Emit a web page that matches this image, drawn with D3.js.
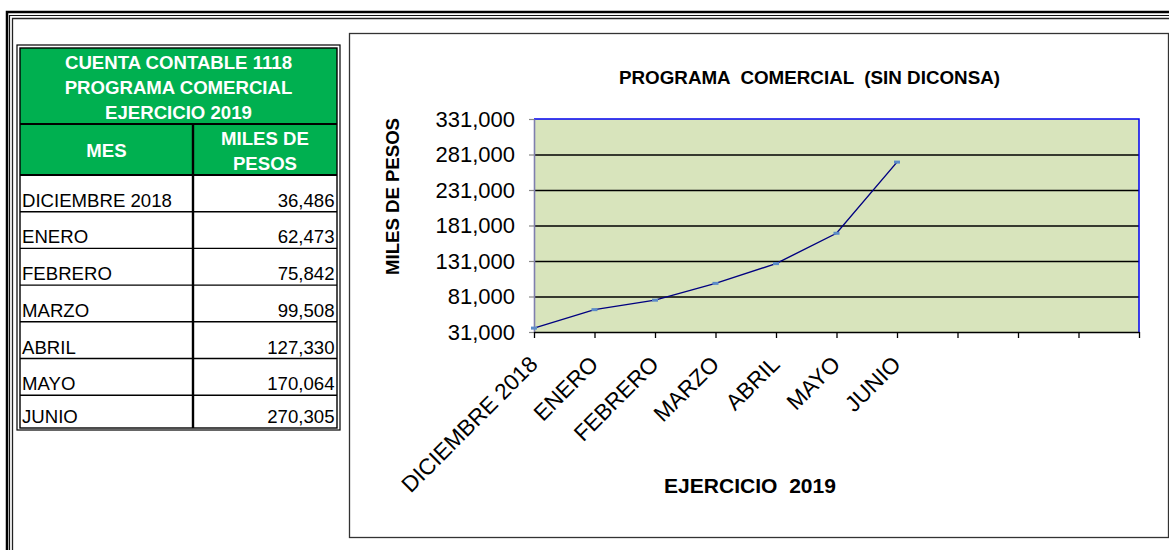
<!DOCTYPE html>
<html><head><meta charset="utf-8">
<script src="https://cdn.jsdelivr.net/npm/d3@7/dist/d3.min.js"></script>
<style>
body{margin:0;background:#fff}
text{font-family:"Liberation Sans",Arial,Helvetica,sans-serif}
</style>
</head><body>
<svg id="c" width="1169" height="550"></svg>
<script>
// ---- data ----
const months = ["DICIEMBRE 2018","ENERO","FEBRERO","MARZO","ABRIL","MAYO","JUNIO"];
const values = [36486, 62473, 75842, 99508, 127330, 170064, 270305];
const yTicks = [31000, 81000, 131000, 181000, 231000, 281000, 331000];
const blankSlots = 4; // empty category positions after JUNIO
const tableTitle = ["CUENTA CONTABLE 1118","PROGRAMA COMERCIAL","EJERCICIO 2019"];
const colMes = ["MES"];
const colMiles = ["MILES DE","PESOS"];
const chartTitle = "PROGRAMA  COMERCIAL  (SIN DICONSA)";
const yTitle = "MILES DE PESOS";
const xTitle = "EJERCICIO  2019";

const fmt = d3.format(",");
const svg = d3.select("#c");
svg.append("rect").attr("width",1169).attr("height",550).attr("fill","#fff");

// ---- outer frame (Excel style multi-line border) ----
const frame = svg.append("g").attr("fill","none");
[[7,12,2.5,"#000"],[9.5,15.5,1.2,"#111"],[12.5,18.5,1.3,"#222"]].forEach(([fx,fy,w,c])=>{
  frame.append("path").attr("d",`M${fx},560V${fy}H1180`).attr("stroke",c).attr("stroke-width",w);
});

// ---- table ----
const T = {x0:20, x1:337, xm:193, top:48, titleBottom:124, headBottom:175, bottom:428};
const tg = svg.append("g");
tg.append("rect").attr("x",T.x0).attr("y",T.top).attr("width",T.x1-T.x0).attr("height",T.headBottom-T.top).attr("fill","#00B050");
tg.append("rect").attr("x",17).attr("y",45).attr("width",323).attr("height",385).attr("fill","none").attr("stroke","#000").attr("stroke-width",1.2);
tg.append("rect").attr("x",T.x0).attr("y",T.top).attr("width",T.x1-T.x0).attr("height",T.bottom-T.top).attr("fill","none").attr("stroke","#000").attr("stroke-width",1.4);
tg.append("line").attr("x1",T.x0).attr("x2",T.x1).attr("y1",T.titleBottom).attr("y2",T.titleBottom).attr("stroke","#000").attr("stroke-width",2.2);
tg.append("line").attr("x1",T.x0).attr("x2",T.x1).attr("y1",T.headBottom).attr("y2",T.headBottom).attr("stroke","#000").attr("stroke-width",2);
tg.append("line").attr("x1",T.xm).attr("x2",T.xm).attr("y1",T.titleBottom).attr("y2",T.bottom).attr("stroke","#000").attr("stroke-width",2.4);

const cx = (T.x0+T.x1)/2;
tg.selectAll("text.tt").data(tableTitle).join("text").attr("class","tt")
  .attr("x",cx).attr("y",(d,i)=>68.5+i*25).attr("text-anchor","middle")
  .attr("font-size",18.6).attr("font-weight","bold").attr("fill","#fff").text(d=>d);
tg.selectAll("text.cm").data(colMes).join("text").attr("class","cm")
  .attr("x",(T.x0+T.xm)/2).attr("y",157).attr("text-anchor","middle")
  .attr("font-size",18.6).attr("font-weight","bold").attr("fill","#fff").text(d=>d);
tg.selectAll("text.cp").data(colMiles).join("text").attr("class","cp")
  .attr("x",(T.xm+T.x1)/2).attr("y",(d,i)=>145+i*25).attr("text-anchor","middle")
  .attr("font-size",18.6).attr("font-weight","bold").attr("fill","#fff").text(d=>d);

const rowH = 36.7;
const rowBottom = i => Math.min(T.headBottom + (i+1)*rowH, T.bottom);
months.forEach((m,i)=>{
  if(i < months.length-1){
    tg.append("line").attr("x1",T.x0).attr("x2",T.x1).attr("y1",rowBottom(i)).attr("y2",rowBottom(i)).attr("stroke","#000").attr("stroke-width",1.4);
  }
  tg.append("text").attr("x",22).attr("y",rowBottom(i)-5).attr("font-size",18.6).attr("fill","#000").text(m);
  tg.append("text").attr("x",334.5).attr("y",rowBottom(i)-5).attr("text-anchor","end").attr("font-size",18.6).attr("fill","#000").text(fmt(values[i]));
});

// ---- chart box ----
svg.append("rect").attr("x",349.5).attr("y",33.5).attr("width",819).attr("height",504)
  .attr("fill","#fff").attr("stroke","#333").attr("stroke-width",1.3);

const P = {l:534, r:1139, t:119, b:332};
const x = d3.scalePoint().domain(d3.range(months.length + blankSlots)).range([P.l,P.r]);
const y = d3.scaleLinear().domain([yTicks[0], yTicks[yTicks.length-1]]).range([P.b,P.t]);

svg.append("rect").attr("x",P.l).attr("y",P.t).attr("width",P.r-P.l).attr("height",P.b-P.t).attr("fill","#D8E4BC");

// gridlines
svg.append("g").attr("transform",`translate(${P.l},0)`)
  .call(d3.axisLeft(y).tickValues(yTicks.slice(1,-1)).tickSize(-(P.r-P.l)).tickFormat(""))
  .call(g=>{g.select(".domain").remove(); g.selectAll("line").attr("stroke","#000").attr("stroke-width",1.3);});

// top & right border of plot (blue)
svg.append("path").attr("d",`M${P.l},${P.t}H${P.r}V${P.b}`).attr("fill","none").attr("stroke","#0000EE").attr("stroke-width",1.5);

// y axis
const yAxis = svg.append("g").attr("transform",`translate(${P.l},0)`)
  .call(d3.axisLeft(y).tickValues(yTicks).tickSize(5).tickSizeOuter(0).tickPadding(14).tickFormat(fmt));
yAxis.select(".domain").attr("stroke","#7f7fae").attr("stroke-width",1.6);
yAxis.selectAll(".tick line").attr("stroke","#888").attr("stroke-width",1.2);
yAxis.selectAll(".tick text").attr("font-size",22).attr("fill","#000")
  .attr("font-family","'Liberation Sans',Arial,sans-serif");

// x axis
const xAxis = svg.append("g").attr("transform",`translate(0,${P.b})`)
  .call(d3.axisBottom(x).tickSize(6).tickSizeOuter(0).tickFormat(i=>months[i]||""));
xAxis.select(".domain").attr("stroke","#000").attr("stroke-width",1.5);
xAxis.selectAll(".tick line").attr("stroke","#000").attr("stroke-width",1.3);
xAxis.selectAll(".tick text").attr("x",0).attr("y",0).attr("dy","0.35em")
  .attr("text-anchor","end").attr("transform","translate(-1,28) rotate(-45)")
  .attr("font-size",22.5).attr("fill","#000").attr("font-family","'Liberation Sans',Arial,sans-serif");

// series line
svg.append("path").datum(values)
  .attr("d", d3.line().x((d,i)=>x(i)).y(d=>y(d)))
  .attr("fill","none").attr("stroke","#000080").attr("stroke-width",1.4);
svg.selectAll("rect.mk").data(values).join("rect").attr("class","mk")
  .attr("x",(d,i)=>x(i)-3).attr("y",d=>y(d)-1.5).attr("width",6).attr("height",3).attr("fill","#5B8BC8");

// titles
svg.append("text").attr("x",619).attr("y",84).attr("font-size",19).attr("font-weight","bold")
  .attr("textLength",381).attr("lengthAdjust","spacingAndGlyphs").style("white-space","pre").text(chartTitle);
svg.append("text").attr("transform","translate(399,196.5) rotate(-90)").attr("text-anchor","middle")
  .attr("font-size",19).attr("font-weight","bold").attr("textLength",157).attr("lengthAdjust","spacingAndGlyphs").text(yTitle);
svg.append("text").attr("x",664).attr("y",493).attr("font-size",21).attr("font-weight","bold")
  .attr("textLength",172).attr("lengthAdjust","spacingAndGlyphs").style("white-space","pre").text(xTitle);
</script>
</body></html>
